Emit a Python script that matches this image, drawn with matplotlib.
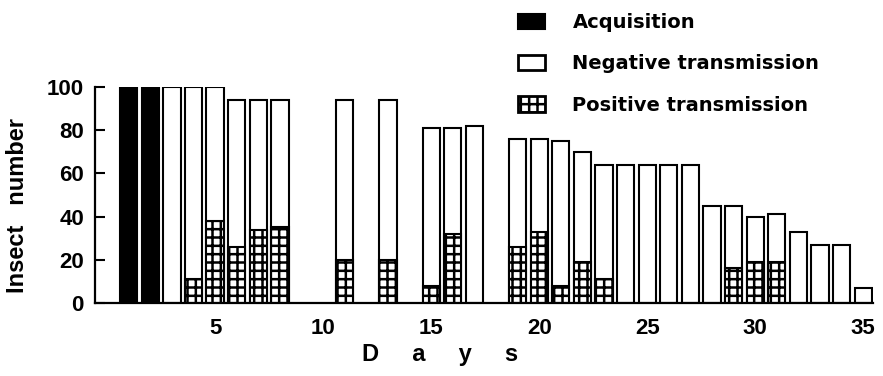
import matplotlib
matplotlib.use('Agg')
import matplotlib.pyplot as plt
from matplotlib.patches import Patch

# Data
days = list(range(1, 36))
acquisition = [100, 100] + [0] * 33
total = [0, 0, 100, 100, 100, 94, 94, 94, 0, 0, 94, 0, 94, 0, 81, 81, 82, 0,
         76, 76, 75, 70, 64, 64, 64, 64, 64, 45, 45, 40, 41, 33, 27, 27, 7]
positive = [0, 0, 0, 11, 38, 26, 34, 35, 0, 0, 20, 0, 20, 0, 8, 32, 0, 0,
            26, 33, 8, 19, 11, 0, 0, 0, 0, 0, 16, 19, 19, 0, 0, 0, 0]
xticks = [5, 10, 15, 20, 25, 30, 35]
yticks = [0, 20, 40, 60, 80, 100]

plt.rcParams['hatch.color'] = 'black'
plt.rcParams['hatch.linewidth'] = 1.8

fig = plt.figure(figsize=(8.83, 3.76), dpi=100)
ax = fig.add_axes([95 / 883, 73 / 376, 778 / 883, 216 / 376])

w = 0.8
lw = 1.5
hatch = '--||'

# Acquisition (black)
ad = [d for d, v in zip(days, acquisition) if v > 0]
av = [v for v in acquisition if v > 0]
ax.bar(ad, av, width=w, color='black', edgecolor='black', linewidth=lw)

# Total insects (white = negative)
td = [d for d, v in zip(days, total) if v > 0]
tv = [v for v in total if v > 0]
ax.bar(td, tv, width=w, color='white', edgecolor='black', linewidth=lw)

# Positive transmission (hatched, bottom part)
pd_ = [d for d, v in zip(days, positive) if v > 0]
pv = [v for v in positive if v > 0]
ax.bar(pd_, pv, width=w, color='white', edgecolor='black', linewidth=lw, hatch=hatch)

ax.set_xlim(-0.56, 35.45)
ax.set_ylim(0, 100)
ax.spines['top'].set_visible(False)
ax.spines['right'].set_visible(False)
ax.spines['left'].set_linewidth(1.6)
ax.spines['bottom'].set_linewidth(1.6)

ax.set_yticks(yticks)
ax.set_xticks(xticks)
ax.tick_params(axis='y', direction='in', length=7, width=1.5, pad=8)
ax.tick_params(axis='x', length=0, pad=11)
for lab in ax.get_xticklabels() + ax.get_yticklabels():
    lab.set_fontfamily('Liberation Sans')
    lab.set_fontweight('bold')
    lab.set_fontsize(16)

ax.set_ylabel('Insect   number', fontsize=17, fontweight='bold', family='Liberation Sans')
ax.yaxis.set_label_coords(-0.085, 0.45)
fig.text(440 / 883, 1 - 355 / 376, 'D     a     y     s', fontsize=17, fontweight='bold',
         family='Liberation Sans', ha='center', va='center')

handles = [Patch(facecolor='black', edgecolor='black', linewidth=lw),
           Patch(facecolor='white', edgecolor='black', linewidth=2),
           Patch(facecolor='white', edgecolor='black', linewidth=2, hatch=hatch)]
labels = ['Acquisition', 'Negative transmission', 'Positive transmission']
fig.legend(handles, labels, loc='upper left', bbox_to_anchor=(518 / 883, 1 - 13 / 376),
           frameon=False, borderpad=0, borderaxespad=0,
           handlelength=1.4, handleheight=0.85, handletextpad=1.4, labelspacing=1.15,
           prop={'family': 'DejaVu Sans', 'size': 14, 'weight': 'bold'})

plt.savefig('out.png', dpi=100)
